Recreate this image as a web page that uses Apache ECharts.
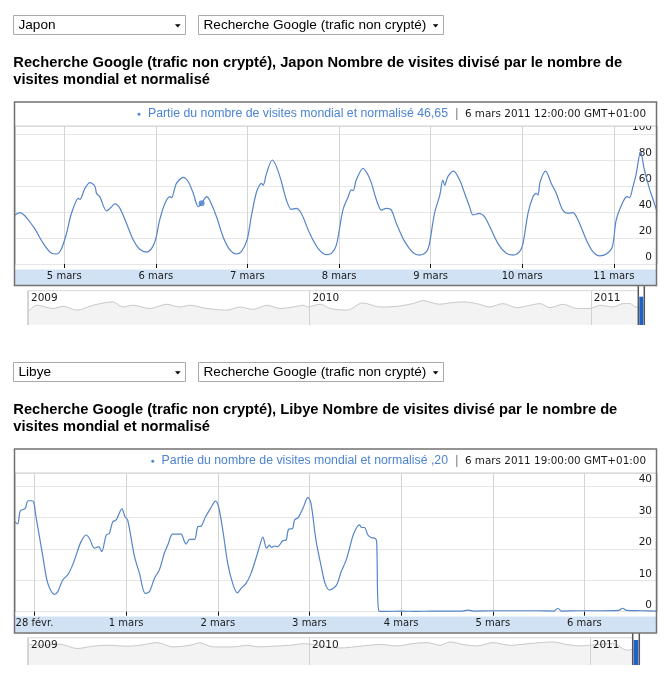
<!DOCTYPE html>
<html><head><meta charset="utf-8">
<script src="https://cdn.jsdelivr.net/npm/echarts@6/dist/echarts.min.js"></script>
<style>html,body{margin:0;padding:0;background:#fff}#c{width:672px;height:682px}</style>
</head><body><div id="c"></div><script>
// ---------- data ----------
const countries = ['Japon', 'Libye'];
const product = 'Recherche Google (trafic non crypté)';
const titleTail = ['Nombre de visites divisé par le nombre de', 'visites mondial et normalisé'];
const legendLabel = 'Partie du nombre de visites mondial et normalisé';
const hoverValueText = ['46,65', ',20'];
const hoverDateText = ['6 mars 2011 12:00:00 GMT+01:00', '6 mars 2011 19:00:00 GMT+01:00'];
const monthNames = ['janv.', 'févr.', 'mars'];

// Japon: hours since 5 mars 2011 00:00
const japonHours = [-12.9,-11.6,-8.1,-5.5,-3.3,-2.0,-0.7,0.6,1.9,3.7,
 4.1,5.4,6.7,8.0,8.5,9.3,11.1,12.0,13.3,14.6,
 16.3,18.1,19.8,21.6,22.9,23.9,25.0,26.4,27.7,28.1,
 29.4,31.2,32.5,33.8,35.1,36.0,37.3,38.1,39.9,41.6,
 43.4,45.1,46.4,47.9,49.0,50.4,51.7,52.1,53.0,54.5,
 55.6,56.9,58.2,59.5,60.8,62.1,64.3,66.5,68.7,70.0,
 71.3,73.0,74.4,75.2,75.7,76.5,78.3,79.6,80.5,81.8,
 83.1,84.4,85.7,87.0,89.2,91.4,93.1,94.9,95.7,97.0,
 98.4,99.2,99.7,100.5,102.0,103.6,104.9,106.2,107.1,108.8,
 110.1,111.5,113.6,115.8,117.6,119.3,120.2,121.5,122.8,123.7,
 124.1,124.7,126.1,127.6,128.9,130.6,132.0,133.3,134.6,136.8,
 138.5,140.3,142.0,143.6,144.6,146.4,147.5,148.1,149.0,149.8,
 151.0,152.0,153.3,154.6,155.3];
const japonValues = [37.7,39.5,28.7,15.9,8.2,7.7,12,23.6,39,50.5,
 49.7,58,62.6,60,54,51.8,40.8,42.8,46.2,42.8,
 31.3,18.5,11.3,9.2,12,18.5,33.8,46.7,51.8,51,
 62,66.7,63.3,54.4,44.1,46.65,51.8,49,36.4,21,
 10.8,7.7,9.5,18.5,36.4,55.6,62,60.5,69.7,80,
 74.9,63.3,49.2,42,42.8,39,23.6,12,7.2,8.2,
 14.5,41.5,51.8,57,56.5,64.6,73.6,68.5,62,49.2,
 41.5,42.8,41.5,31.3,17.2,8.7,6.9,9.5,15.9,39,
 53,64.6,60.5,67.2,71.5,64.6,54.4,44.1,37.7,39,
 36.4,28.7,15.9,8.2,6.9,9.5,15.9,39,51.8,54.4,
 53,63.3,71.5,62,54.4,41.5,39,39.5,33.8,18.5,
 9.5,6.2,7.7,13.3,33.8,47.9,51.8,51,59.5,68.5,
 86.4,72.3,58.2,46.7,40.3];
const japonHoverPoint = [36, 46.65];

// Libye: hours since 28 févr. 2011 00:00
const libyeHours = [-5.1,-4.4,-3.7,-2.4,-1.7,-0.7,-0.2,0.4,1.3,2.2,
 3.5,5.2,6.1,7.4,8.7,10.0,10.9,12.2,13.5,14.4,
 15.7,16.8,17.6,18.8,19.6,20.5,21.4,22.9,23.7,24.4,
 26.2,27.5,29.0,30.1,31.4,32.7,34.0,34.9,36.2,38.4,
 39.1,39.7,40.6,41.9,42.8,43.6,44.7,46.1,47.4,48.2,
 49.3,50.6,51.9,53.1,54.1,55.4,56.7,58.0,58.9,59.8,
 60.8,61.5,62.1,62.8,63.7,65.0,65.9,66.5,67.6,68.1,
 69.1,70.3,71.6,72.4,73.7,75.1,76.1,77.2,79.0,80.3,
 81.6,82.5,83.6,85.1,85.7,86.4,87.3,88.1,89.2,89.6,
 90.2,92,96,100,104,108,112,113.5,115,120,
 126,132,136,137,138,142,148,153,154,155,
 159,163];
const libyeValues = [28.6,27.9,32.1,32.9,35.3,35.3,34.9,30.2,23.9,17.5,
 9.0,5.5,6.4,10.1,11.7,14.9,18.0,22.3,24.4,23.3,
 20.2,20.7,19.1,24.4,24.9,28.6,29.2,32.7,30.2,29.2,
 17.5,12.2,5.8,6.4,10.6,13.3,18.6,21.2,24.7,24.7,
 22.8,21.5,23.0,23.0,27.1,27.2,30.0,32.9,35.2,33.4,
 26.0,15.4,9.0,6.0,7.4,9.0,12.2,17.0,20.7,23.7,
 20.2,21.2,20.5,20.9,20.7,22.6,22.8,26.2,26.5,29.2,
 30.0,32.9,36.4,34.5,22.8,14.3,9.0,6.9,8.3,12.7,
 16.4,20.2,24.9,27.6,26.8,26.8,24.4,23.6,23.3,22.3,
 0.2,0.1,0.2,0.1,0.2,0.2,0.2,0.5,0.2,0.3,
 0.3,0.3,0.2,1.1,0.2,0.3,0.3,0.4,1.1,0.4,
 0.3,0.2];

// navigators: days since 1 janv. 2009
const navTopDays = [0,11.7,32.4,45.4,63.6,84.3,110,123,136,158,180,197,210,232,258,275,292,310,327,344,357,363,379,392,414,434,457,479,499,512,534,547,564,582,599,616,634,651,664,677,694,712,729,742,759,772,781,788,799];
const navTopValues = [38.8,58,48.6,55,43.7,58,68,53,58,48.6,61,53,58,48.6,43.7,53,45.7,58,48.6,53,58,53,61,48.6,43.7,64.8,53,55,63,71.6,61,64.8,68,63,53,63,51,58,63,51,61,48.6,48.6,58,53,63,63,53,55];
const navBottomDays = [0,15.6,41.6,63.7,84.5,106.6,128.7,145.6,167.6,188.4,210.5,223.5,240.4,266.4,284.6,301.5,318.4,340.5,357.4,405.4,435.3,457.4,479.5,500.3,518.5,535.4,548.4,565.3,583.5,604.3,626.4,652.4,682.3,700.5,717.4,739.5,760.3,778.5,790];
const navBottomValues = [77,73,77,61,69.6,73,69.6,73,83,67,73,82,67,67,73,67,69.6,73,79,63,70.7,75.8,70.7,79.5,83,73,85.5,75.8,70.7,83,73,79.5,85.5,75.8,70.7,75.8,79.5,55,60];

// ---------- build ----------
const HOUR = 3600000, DAY = 86400000;
const japonBase = new Date(2011, 2, 5).getTime();
const libyeBase = new Date(2011, 1, 28).getTime();
const japonRange = [-12.9, 155.3];
const libyeRange = [-5.1, 163.0];
const navStart = new Date(2009, 0, 1).getTime();
const navEndDays = [799, 794];

const LINE = '#5584c8';
const BLUE_TXT = '#4d84d2';
const AXF = '"DejaVu Sans", Verdana, sans-serif';
const ARF = '"Liberation Sans", Arial, sans-serif';

function pairs(base, hours, vals) { return hours.map((h, i) => [base + h * HOUR, vals[i]]); }
function navPairs(days, vals) { return days.map((d, i) => [navStart + d * DAY, vals[i]]); }
function dayLabel(v) { const d = new Date(v); return d.getDate() + ' ' + monthNames[d.getMonth()]; }

function mainX(gi, base, range, margin) {
  return {
    gridIndex: gi, type: 'time', min: base + range[0] * HOUR, max: base + range[1] * HOUR,
    minInterval: DAY, maxInterval: DAY,
    axisLine: { show: false },
    axisTick: { show: true, length: 4, lineStyle: { color: '#111', width: 1 } },
    axisLabel: { margin: margin, fontSize: 10, color: '#1a1a1a', fontFamily: AXF,
      showMinLabel: false, showMaxLabel: false, formatter: dayLabel },
    splitLine: { show: true, lineStyle: { color: '#d4d4d4', width: 1 } }
  };
}
function mainY(gi, max, step) {
  return {
    gridIndex: gi, type: 'value', min: 0, max: max, interval: step, position: 'right',
    axisLine: { show: false }, axisTick: { show: false },
    axisLabel: { inside: true, margin: 5, fontSize: 10.5, color: '#1a1a1a', fontFamily: AXF,
      verticalAlign: 'bottom', padding: [0, 0, 1, 0], showMaxLabel: false,
      formatter: v => (Math.abs(v / step - Math.round(v / step)) < 1e-6 ? String(v) : '') },
    splitLine: { show: true, lineStyle: { color: '#e6e6e6', width: 1 } }
  };
}
function navX(gi, endDays) {
  return {
    gridIndex: gi, type: 'time', position: 'top', min: navStart, max: navStart + endDays * DAY,
    minInterval: 365 * DAY, maxInterval: 366 * DAY, z: 6,
    axisLine: { show: false }, axisTick: { show: false },
    axisLabel: { inside: true, margin: 1.5, align: 'left', padding: [0, 0, 0, 3], fontSize: 10.5,
      color: '#1a1a1a', fontFamily: AXF, showMaxLabel: false,
      formatter: v => String(new Date(v).getFullYear()) },
    splitLine: { show: true, lineStyle: { color: '#cdd6cd', width: 1 } }
  };
}
function navY(gi) { return { gridIndex: gi, type: 'value', min: 0, max: 100, show: false }; }

function chrome(i, dy, handle, navTop, navBottom, blueTop, frameH, bandH) {
  const e = [];
  const f = '13.6px ' + ARF;
  e.push({ type: 'rect', shape: { x: 13.5, y: 15.5 + dy, width: 172, height: 19 }, style: { fill: '#fff', stroke: '#a9a9a9', lineWidth: 1 } });
  e.push({ type: 'text', style: { x: 18.5, y: 25.3 + dy, text: countries[i], font: f, fill: '#000', verticalAlign: 'middle' } });
  e.push({ type: 'polygon', shape: { points: [[175, 24.2 + dy], [180.6, 24.2 + dy], [177.8, 27.5 + dy]] }, style: { fill: '#000' } });
  e.push({ type: 'rect', shape: { x: 198.5, y: 15.5 + dy, width: 245, height: 19 }, style: { fill: '#fff', stroke: '#a9a9a9', lineWidth: 1 } });
  e.push({ type: 'text', style: { x: 203.5, y: 25.3 + dy, text: product, font: f, fill: '#000', verticalAlign: 'middle' } });
  e.push({ type: 'polygon', shape: { points: [[432.8, 24.2 + dy], [438.4, 24.2 + dy], [435.6, 27.5 + dy]] }, style: { fill: '#000' } });
  // title
  e.push({ type: 'text', style: { x: 13.3, y: 55 + dy, text: product + ', ' + countries[i] + ' ' + titleTail[0] + '\n' + titleTail[1],
    font: 'bold 14.7px ' + ARF, fill: '#000', lineHeight: 16.7, verticalAlign: 'top' } });
  // band under x axis
  e.push({ type: 'rect', z: -1, shape: { x: 15, y: 269.5 + dy, width: 641.5, height: bandH }, style: { fill: '#d2e2f5' } });
  // header (top layer)
  e.push({ type: 'rect', zlevel: 1, z: 90, shape: { x: 15.2, y: 102.7 + dy, width: 641, height: 23.1 }, style: { fill: '#fff' } });
  e.push({ type: 'line', zlevel: 1, z: 91, shape: { x1: 15, y1: 126 + dy, x2: 656.5, y2: 126 + dy }, style: { stroke: '#cfcfcf', lineWidth: 1 } });
  e.push({ type: 'text', zlevel: 1, z: 95, style: { x: 448, y: 114 + dy, text: '{d|●}  ' + legendLabel + ' ' + hoverValueText[i],
    rich: { d: { fontSize: 7, fill: BLUE_TXT } }, font: '12.3px ' + ARF, fill: BLUE_TXT, align: 'right', verticalAlign: 'middle' } });
  e.push({ type: 'text', zlevel: 1, z: 95, style: { x: 456.7, y: 114 + dy, text: '|', font: '12px ' + ARF, fill: '#777', align: 'center', verticalAlign: 'middle' } });
  e.push({ type: 'text', zlevel: 1, z: 95, style: { x: 646, y: 114.3 + dy, text: hoverDateText[i], font: '10.4px ' + AXF, fill: '#1a1a1a', align: 'right', verticalAlign: 'middle' } });
  // frame
  e.push({ type: 'rect', zlevel: 1, z: 100, shape: { x: 14.5, y: 102 + dy, width: 642, height: frameH }, style: { fill: 'none', stroke: '#727272', lineWidth: 1.5 } });
  // navigator borders
  e.push({ type: 'line', z: 50, shape: { x1: 27.5, y1: navTop, x2: handle[0], y2: navTop }, style: { stroke: '#d8d8d8', lineWidth: 1 } });
  e.push({ type: 'line', z: 50, shape: { x1: 27.5, y1: navTop, x2: 27.5, y2: navBottom }, style: { stroke: '#d8d8d8', lineWidth: 1 } });
  // handle
  e.push({ type: 'rect', zlevel: 1, z: 98, shape: { x: handle[0] + 1, y: blueTop, width: handle[1] - handle[0] - 2, height: navBottom - blueTop }, style: { fill: '#1d62cc' } });
  e.push({ type: 'line', zlevel: 1, z: 99, shape: { x1: handle[0], y1: 102 + dy + frameH, x2: handle[0], y2: navBottom }, style: { stroke: '#555', lineWidth: 1.5 } });
  e.push({ type: 'line', zlevel: 1, z: 99, shape: { x1: handle[1], y1: 102 + dy + frameH, x2: handle[1], y2: navBottom }, style: { stroke: '#555', lineWidth: 1.5 } });
  return e;
}

const chart = echarts.init(document.getElementById('c'), null, { renderer: 'canvas' });
const option = {
  animation: false,
  backgroundColor: '#fff',
  grid: [
    { left: 15, right: 15, top: 126, height: 138, outerBoundsMode: 'none' },
    { left: 28, top: 291, width: 616, height: 34, outerBoundsMode: 'none' },
    { left: 15, right: 15, top: 473.3, height: 138.4, outerBoundsMode: 'none' },
    { left: 28, top: 638, width: 611, height: 27, outerBoundsMode: 'none' }
  ],
  xAxis: [mainX(0, japonBase, japonRange, 7.5), navX(1, navEndDays[0]), mainX(2, libyeBase, libyeRange, 6.6), navX(3, navEndDays[1])],
  yAxis: [mainY(0, 106.15, 20), navY(1), mainY(2, 44.04, 10), navY(3)],
  series: [
    { type: 'line', xAxisIndex: 0, yAxisIndex: 0, data: pairs(japonBase, japonHours, japonValues), showSymbol: false, smooth: 0.3,
      lineStyle: { color: LINE, width: 1.2 }, itemStyle: { color: LINE }, silent: true, z: 3 },
    { type: 'scatter', xAxisIndex: 0, yAxisIndex: 0, data: [[japonBase + japonHoverPoint[0] * HOUR, japonHoverPoint[1]]], symbolSize: 6,
      itemStyle: { color: '#4d80d0' }, silent: true, z: 4 },
    { type: 'line', xAxisIndex: 1, yAxisIndex: 1, data: navPairs(navTopDays, navTopValues), showSymbol: false, smooth: 0.3,
      lineStyle: { color: '#c9c9c9', width: 1 }, areaStyle: { color: '#f3f3f3', opacity: 1 }, silent: true, z: 1 },
    { type: 'line', xAxisIndex: 2, yAxisIndex: 2, data: pairs(libyeBase, libyeHours, libyeValues), showSymbol: false, smooth: 0.3,
      lineStyle: { color: LINE, width: 1.2 }, itemStyle: { color: LINE }, silent: true, z: 3 },
    { type: 'line', xAxisIndex: 3, yAxisIndex: 3, data: navPairs(navBottomDays, navBottomValues), showSymbol: false, smooth: 0.3,
      lineStyle: { color: '#c9c9c9', width: 1 }, areaStyle: { color: '#f3f3f3', opacity: 1 }, silent: true, z: 1 }
  ],
  graphic: { elements: [].concat(
    chrome(0, 0, [638.3, 644.3], 290.7, 325, 296.7, 183.5, 15.5),
    chrome(1, 347, [632.7, 639.3], 637.7, 665, 640, 184, 16)
  ) }
};
chart.setOption(option);
</script></body></html>
